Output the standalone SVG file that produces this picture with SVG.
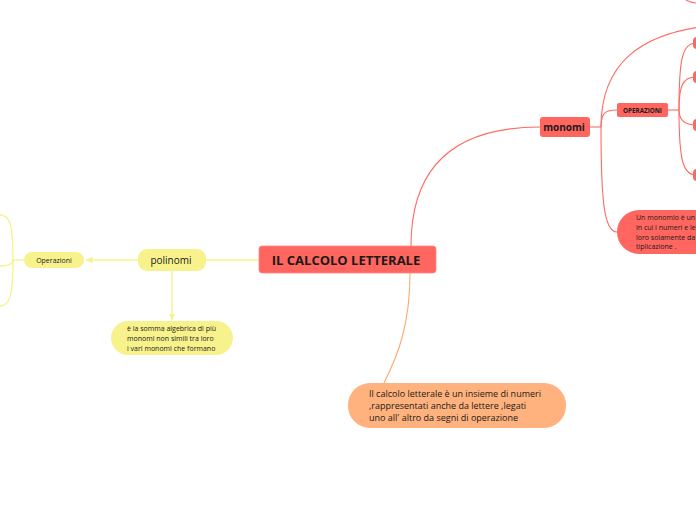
<svg xmlns="http://www.w3.org/2000/svg" width="696" height="520" viewBox="0 0 696 520">
<style>
.red{fill:#FF6660}
.yel{fill:#F8F28D}
.org{fill:#FFB27E}
.cr{fill:none;stroke:#FF6B63;stroke-width:1.1}
.cy{fill:none;stroke:#F8F28D;stroke-width:1.3}
.co{fill:none;stroke:#FFA96E;stroke-width:1.1}
text{font-family:"Open Sans","Noto Sans","Liberation Sans",sans-serif;fill:#1a1a1a}
.t7{font-size:7px}
.t9{font-size:9px}
</style>
<defs>
<marker id="ay" viewBox="0 0 6 6" refX="6" refY="3" markerWidth="5" markerHeight="5" orient="auto"><path d="M0,0 L6,3 L0,6 z" fill="#F8F28D"/></marker>
</defs>
<g id="connectors">
<path class="cr" d="M411,246 C411,165 455,127 540,127"/>
<path class="co" d="M410,273 C410,325 398,355 384,383"/>
<path class="cr" d="M590,127 L601,127" stroke-width="2.2"/>
<path class="cr" d="M601,127 C601,60 645,35 700,27"/>
<path class="cr" d="M601,127 C601,112 606,110 617,110"/>
<path class="cr" d="M601,127 C601,200 604,232 617,232"/>
<path class="cr" d="M686,0 C690,2 693,3 696,3"/>
<path class="cr" d="M668,110 L679,110" stroke-width="2.2"/>
<path class="cr" d="M679,110 C679,60 682,43 696,43"/>
<path class="cr" d="M679,110 C679,85 683,77 696,77"/>
<path class="cr" d="M679,110 C679,118 683,125 696,125"/>
<path class="cr" d="M679,110 C679,160 683,175 696,175"/>
<path class="cy" d="M259,260 L206,260"/>
<path class="cy" d="M138,260 L86,260" marker-end="url(#ay)"/>
<path class="cy" d="M172,271 L172,320" marker-end="url(#ay)"/>
<path class="cy" d="M24,260 L13,260" stroke-width="2.2"/>
<path class="cy" d="M13,260 C13,225 10,215 0,215"/>
<path class="cy" d="M13,260 C13,264 8,266 0,266"/>
<path class="cy" d="M13,260 C13,295 10,306 0,306"/>
</g>
<g id="central">
<rect class="red" x="259" y="246" width="177" height="27" rx="3" stroke="#FF8A85" stroke-width="0.8"/>
<text x="346" y="264.5" text-anchor="middle" font-size="13" font-weight="bold">IL CALCOLO LETTERALE</text>
</g>
<g id="monomi">
<rect class="red" x="540" y="117" width="50" height="20" rx="3"/>
<text x="564" y="131" text-anchor="middle" font-size="10" font-weight="bold">monomi</text>
</g>
<g id="operazioni-monomi">
<rect class="red" x="617" y="103" width="51" height="14" rx="2"/>
<text x="642.5" y="113" text-anchor="middle" font-size="6.3" font-weight="bold">OPERAZIONI</text>
</g>
<g id="op-children">
<rect class="red" x="693" y="37" width="12" height="12" rx="4"/>
<rect class="red" x="693" y="71" width="12" height="12" rx="4"/>
<rect class="red" x="693" y="119" width="12" height="12" rx="4"/>
<rect class="red" x="693" y="169" width="12" height="12" rx="4"/>
</g>
<g id="monomio-def">
<rect class="red" x="617" y="210" width="120" height="44" rx="22"/>
<text class="t7" x="636" y="220">Un monomio è un</text>
<text class="t7" x="636" y="230">in cui i numeri e le</text>
<text class="t7" x="636" y="240">loro solamente da</text>
<text class="t7" x="636" y="249">tiplicazione .</text>
</g>
<g id="polinomi">
<rect class="yel" x="138" y="249" width="68" height="22" rx="9"/>
<text x="171" y="264" text-anchor="middle" font-size="10">polinomi</text>
</g>
<g id="operazioni-polinomi">
<rect class="yel" x="24" y="252" width="60" height="16" rx="8"/>
<text class="t7" x="54" y="263" text-anchor="middle">Operazioni</text>
</g>
<g id="polinomi-def">
<rect class="yel" x="111" y="321" width="122" height="34" rx="17"/>
<text class="t7" x="127" y="331">è la somma algebrica di più</text>
<text class="t7" x="127" y="341">monomi non simili tra loro</text>
<text class="t7" x="127" y="351">i vari monomi che formano</text>
</g>
<g id="definizione">
<rect class="org" x="348" y="383" width="218" height="45" rx="22"/>
<text class="t9" x="369" y="397">Il calcolo letterale è un insieme di numeri</text>
<text class="t9" x="369" y="409">,rappresentati anche da lettere ,legati</text>
<text class="t9" x="369" y="421">uno all' altro da segni di operazione</text>
</g>
</svg>
